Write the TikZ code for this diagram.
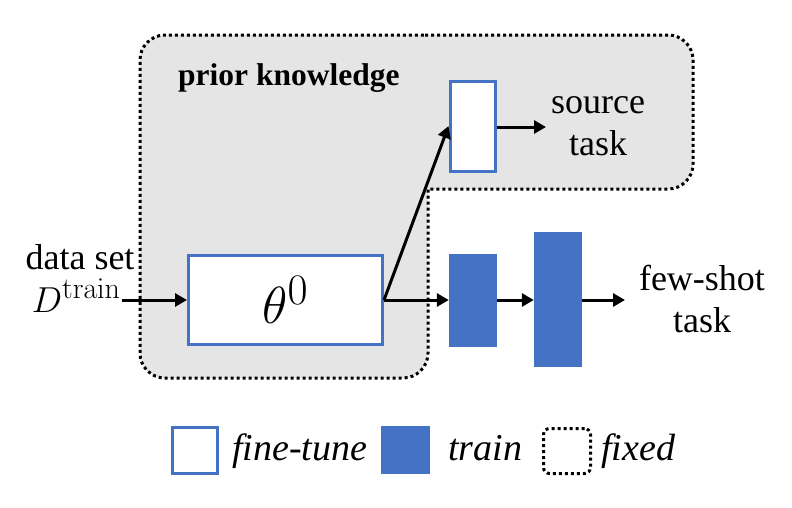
\documentclass[tikz,border=0pt]{standalone}
\usepackage[no-math]{fontspec}
\setmainfont{Liberation Serif}
\usetikzlibrary{arrows.meta}
\definecolor{boxblue}{HTML}{4472C4}
\definecolor{priorgray}{HTML}{E5E5E5}
\tikzset{
  lbl/.style={font=\fontsize{36}{42}\selectfont, align=center, inner sep=0pt},
  legtxt/.style={font=\fontsize{38}{42}\selectfont\itshape, anchor=base west, inner sep=0pt},
  ftbox/.style={draw=boxblue, fill=white, line width=3pt, inner sep=0pt},
  trbox/.style={fill=boxblue, draw=none, inner sep=0pt},
  arr/.style={line width=3pt, -{Triangle[length=12pt,width=13pt]}},
  dotline/.style={line width=3pt, dash pattern=on 3pt off 3pt},
}
\begin{document}
\begin{tikzpicture}[x=1pt,y=-1pt]
\useasboundingbox (0,0) rectangle (792,507);
% prior knowledge region
\draw[dotline, fill=priorgray, rounded corners=25]
  (400,35) -- (693,35) -- (693,189) [sharp corners] -- (428,189) [rounded corners=25] -- (428,378) -- (140,378) -- (140,35) -- cycle;
\node[lbl, font=\fontsize{31.5}{36}\selectfont\bfseries, anchor=west] (pk) at (178,78) {prior knowledge};
% boxes
\node[ftbox, minimum width=194pt, minimum height=89pt] (theta) at (285.5,299.5) {\scalebox{2.1}{\fontsize{24.88}{30}\selectfont$\theta^0$}};
\node[ftbox, minimum width=45pt, minimum height=90pt] (src) at (472.5,126) {};
\node[trbox, minimum width=48pt, minimum height=93pt] (b1) at (473,300) {};
\node[trbox, minimum width=48pt, minimum height=135pt] (b2) at (558,299.5) {};
% texts
\node[lbl] (srct) at (598,126) {source\\task};
\node[lbl] (fst) at (702,299) {few-shot\\task};
\node[lbl] (ds) at (80,257) {data set};
\node[lbl, anchor=base east] (dtr) at (121,312) {\scalebox{1.45}{\fontsize{24.88}{30}\selectfont$D^{\mathrm{train}}$}};
% connector end points
\coordinate (dsin) at (122,300);
\coordinate (srcout) at (546,127);
\coordinate (fsout) at (625,300);
% connectors
\draw[arr] (dsin) -- (theta.west |- dsin);
\draw[arr] (theta.east |- dsin) -- (src.west);
\draw[arr] (theta.east |- dsin) -- (b1.west |- dsin);
\draw[arr] (b1.east |- dsin) -- (b2.west |- dsin);
\draw[arr] (b2.east |- dsin) -- (fsout);
\draw[arr] (src.east |- srcout) -- (srcout);
% legend
\node[ftbox, minimum width=45pt, minimum height=46pt] (lft) at (194.5,450) {};
\node[legtxt] (lftt) at (232,460) {fine-tune};
\node[trbox, minimum width=49pt, minimum height=48pt] (ltr) at (405,450) {};
\node[legtxt] (ltrt) at (448,460) {train};
\node[draw, dotline, rounded corners=6, minimum width=47pt, minimum height=45pt, inner sep=0pt] (lfx) at (567,451) {};
\node[legtxt] (lfxt) at (601,460) {fixed};
\end{tikzpicture}
\end{document}
